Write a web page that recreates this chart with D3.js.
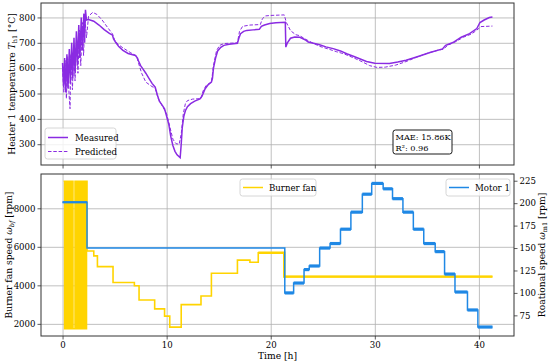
<!DOCTYPE html>
<html>
<head>
<meta charset="utf-8">
<script src="https://cdn.jsdelivr.net/npm/d3@7"></script>
<style>
  body { margin: 0; background: #fff; }
  svg text { font-family: "DejaVu Serif", serif; fill: #000; }
</style>
</head>
<body>
<div id="chart"></div>
<script>
// time ticks and tick labels
var timeTicks = [0, 10, 20, 30, 40];
var tempTicks = [300, 400, 500, 600, 700, 800];
var fanTicks = [2000, 4000, 6000, 8000];
var motorTicks = [75, 100, 125, 150, 175, 200, 225];

// heater 1 temperature [time h, degC]
var measured = [[0,620],[0.1,530],[0.2,640],[0.3,505],[0.42,655],[0.52,520],[0.65,675],[0.75,540],[0.88,700],[0.98,560],
  [1.1,720],[1.2,580],[1.33,745],[1.43,610],[1.56,770],[1.66,640],[1.8,800],[1.9,670],[2.05,815],[2.12,700],[2.2,830],
  [2.3,790],[2.5,792],[3,785],[3.5,770],[4,752],[4.5,737],[4.8,730],[4.9,715],[5.1,702],[5.4,685],[5.8,670],[6.3,658],
  [7,650],[7.2,640],[7.3,628],[7.5,610],[7.7,598],[8,580],[8.3,560],[8.6,540],[8.9,525],[9.1,495],[9.3,470],[9.6,452],
  [9.8,440],[10,410],[10.2,380],[10.4,330],[10.6,295],[10.8,272],[11,258],[11.3,247],[11.4,300],[11.5,365],[11.65,410],
  [11.8,432],[12,448],[12.3,460],[12.7,470],[13.2,479],[13.4,490],[13.7,519],[14,535],[14.3,545],[14.4,560],[14.5,600],
  [14.7,640],[14.9,668],[15.2,682],[15.5,690],[16,694],[16.8,698],[16.95,720],[17.1,736],[17.4,745],[17.7,749],[18.3,751],
  [18.9,753],[19.1,765],[19.4,770],[19.9,776],[20.5,779],[21.4,781],[21.45,683],[21.6,700],[21.9,718],[22.3,723],[22.8,722],
  [23.3,712],[23.6,703],[24,699],[24.7,692],[25.3,684],[26,677],[26.7,668],[27.3,657],[28,646],[28.6,636],[29.2,626],
  [30,619],[31.4,618],[32.2,624],[33,631],[33.7,640],[34.3,648],[35.3,662],[36.5,676],[36.8,690],[37.5,701],[38.3,722],
  [39.1,736],[39.8,756],[40.1,780],[40.5,790],[41,800],[41.3,802]];

var predicted = [[0,600],[0.12,505],[0.25,630],[0.37,480],[0.5,645],[0.62,500],[0.72,440],[0.8,655],[0.95,515],[1.08,690],
  [1.2,550],[1.35,720],[1.48,580],[1.62,750],[1.75,610],[1.9,780],[2.02,650],[2.15,800],[2.3,720],[2.5,805],[2.9,820],
  [3.3,812],[3.8,790],[4.3,762],[4.8,735],[5,712],[5.3,695],[5.8,680],[6.5,662],[7.1,648],[7.3,620],[7.6,580],[8,545],
  [8.5,530],[8.9,520],[9.2,480],[9.6,450],[10,420],[10.3,370],[10.6,320],[10.9,302],[11.2,300],[11.4,340],[11.6,420],
  [11.8,460],[12,472],[12.5,478],[13.3,480],[13.5,510],[13.8,532],[14.3,545],[14.5,610],[14.8,670],[15.1,690],[15.5,697],
  [16.8,700],[17,745],[17.3,765],[18,770],[19,772],[19.2,795],[19.5,806],[20,808],[21.3,810],[21.5,780],[21.9,748],
  [22.4,732],[22.8,728],[23.3,715],[24,700],[24.7,686],[25.5,676],[26.3,665],[27,657],[28,640],[28.8,625],[29.5,610],
  [30.2,603],[31,604],[32,612],[33,626],[34,643],[35,658],[36,670],[36.6,675],[37,690],[37.8,705],[38.5,722],[39.3,735],
  [39.8,750],[40.2,764],[41.3,766]];

// burner fan speed [time h, rpm] (step after)
var burnerFan = [[0.1,9400],[0.2,1750],[0.3,9400],[0.4,1750],[0.5,9400],[0.6,1750],[0.7,9400],[0.8,1750],[0.9,9400],
  [1.0,1750],[1.2,9400],[1.3,1750],[1.4,9400],[1.5,1750],[1.65,9400],[1.75,1750],[1.9,9400],[2.0,1750],[2.1,9400],
  [2.2,1750],[2.3,9400],[2.35,5780],[3.0,5530],[3.35,4970],[4.85,4150],[6.9,3980],[7.35,3240],[8.85,2780],[9.8,2400],
  [10.3,1830],[11.4,3000],[13.3,3450],[14.3,4630],[16.8,5310],[18.0,5200],[18.8,5690],[21.3,4450],[41.3,4450]];

// motor 1 rotational speed [time h, rpm] (step after)
var motor1 = [[0,201],[2.35,150],[21.35,100],[22.2,111],[23.2,126],[23.7,130],[24.7,150],[25.7,155],[26.7,171],
  [27.7,190],[28.8,210],[29.7,222],[30.8,216],[31.7,205],[32.7,190],[33.7,171],[34.7,155],[35.8,146],[36.7,121],
  [37.7,101],[38.9,81],[39.9,62],[41.3,62]];

var purple = "#8a2be2", gold = "#ffd400", blue = "#1f88e5";
var W = 550, H = 364;
var left = 41, right = 514;
var top1 = 3, bot1 = 165, top2 = 174, bot2 = 336;
var tickFont = "8.6px", labelFont = "9.2px";

var svg = d3.select("#chart").append("svg").attr("width", W).attr("height", H);

var x = d3.scaleLinear().domain([-2.07, 43.37]).range([left, right]);
var yT = d3.scaleLinear().domain([218, 857]).range([bot1, top1]);
var yF = d3.scaleLinear().domain([1370, 9780]).range([bot2, top2]);
var yM = d3.scaleLinear().domain([52, 232.5]).range([bot2, top2]);

function grid(g, xTop, xBot, yScale, yTicks) {
    g.append("g").attr("transform", "translate(0," + xBot + ")")
        .call(d3.axisBottom(x).tickValues(timeTicks).tickSize(-(xBot - xTop)).tickFormat(""));
    g.append("g").attr("transform", "translate(" + left + ",0)")
        .call(d3.axisLeft(yScale).tickValues(yTicks).tickSize(-(right - left)).tickFormat(""));
    g.selectAll(".domain").remove();
    g.selectAll("line").attr("stroke", "#b0b0b0").attr("stroke-width", 0.8);
}

function styleAxis(a) {
    a.select(".domain").remove();
    a.selectAll("line").attr("stroke", "#333").attr("stroke-width", 0.8);
    a.selectAll("text").style("font-size", tickFont).style("font-family", "DejaVu Serif");
}

// ---- top panel
grid(svg.append("g"), top1, bot1, yT, tempTicks);

svg.append("clipPath").attr("id", "c1").append("rect")
    .attr("x", left).attr("y", top1).attr("width", right - left).attr("height", bot1 - top1);

var tline = d3.line().x(d => x(d[0])).y(d => yT(d[1]));
var p1 = svg.append("g").attr("clip-path", "url(#c1)");
p1.append("path").datum(predicted).attr("d", tline).attr("fill", "none")
    .attr("stroke", purple).attr("stroke-width", 1).attr("stroke-dasharray", "3.5,1.8");
p1.append("path").datum(measured).attr("d", tline).attr("fill", "none")
    .attr("stroke", purple).attr("stroke-width", 1.5);

var ax1 = svg.append("g").attr("transform", "translate(" + left + ",0)")
    .call(d3.axisLeft(yT).tickValues(tempTicks).tickSize(3.5).tickPadding(2).tickFormat(d3.format("d")));
styleAxis(ax1);
var bx1 = svg.append("g").attr("transform", "translate(0," + bot1 + ")")
    .call(d3.axisBottom(x).tickValues(timeTicks).tickSize(3.5).tickFormat(""));
styleAxis(bx1);

svg.append("rect").attr("x", left).attr("y", top1).attr("width", right - left).attr("height", bot1 - top1)
    .attr("fill", "none").attr("stroke", "#333").attr("stroke-width", 1);

// top legend
var lg1 = svg.append("g");
lg1.append("rect").attr("x", 45).attr("y", 128).attr("width", 71).attr("height", 31).attr("rx", 2.5)
    .attr("fill", "#fff").attr("fill-opacity", 0.8).attr("stroke", "#ccc").attr("stroke-width", 0.8);
lg1.append("line").attr("x1", 48).attr("x2", 68).attr("y1", 137.5).attr("y2", 137.5)
    .attr("stroke", purple).attr("stroke-width", 1.5);
lg1.append("line").attr("x1", 48).attr("x2", 68).attr("y1", 151.5).attr("y2", 151.5)
    .attr("stroke", purple).attr("stroke-width", 1).attr("stroke-dasharray", "3.5,1.8");
lg1.append("text").attr("x", 75).attr("y", 140.5).text("Measured").style("font-size", tickFont);
lg1.append("text").attr("x", 75).attr("y", 154.5).text("Predicted").style("font-size", tickFont);

// MAE box
var mb = svg.append("g");
mb.append("rect").attr("x", 393).attr("y", 130).attr("width", 59).attr("height", 24).attr("rx", 2.5)
    .attr("fill", "#fff").attr("stroke", "#000").attr("stroke-width", 0.9);
mb.append("text").attr("x", 395.5).attr("y", 140).text("MAE: 15.86K").style("font-size", "8.2px");
mb.append("text").attr("x", 395.5).attr("y", 150.5).text("R²: 0.96").style("font-size", "8.2px");

// y label top
var yl1 = svg.append("text").attr("transform", "translate(15," + ((top1 + bot1) / 2) + ") rotate(-90)")
    .attr("text-anchor", "middle").style("font-size", labelFont);
yl1.append("tspan").text("Heater 1 temperature ");
yl1.append("tspan").text("T").style("font-style", "italic");
yl1.append("tspan").text("h1").style("font-size", "6.5px").attr("dy", 1.9);
yl1.append("tspan").text(" [°C]").attr("dy", -1.9);

// ---- bottom panel
grid(svg.append("g"), top2, bot2, yF, fanTicks);

svg.append("clipPath").attr("id", "c2").append("rect")
    .attr("x", left).attr("y", top2).attr("width", right - left).attr("height", bot2 - top2);
var p2 = svg.append("g").attr("clip-path", "url(#c2)");

var fline = d3.line().curve(d3.curveStepAfter).x(d => x(d[0])).y(d => yF(d[1]));
var mline = d3.line().curve(d3.curveStepAfter).x(d => x(d[0])).y(d => yM(d[1]));

p2.append("path").datum(burnerFan).attr("d", fline).attr("fill", "none")
    .attr("stroke", gold).attr("stroke-width", 1.6);
// steady part after 19 h is noisier / thicker
p2.append("path").datum(burnerFan.filter(d => d[0] >= 18.8)).attr("d", fline).attr("fill", "none")
    .attr("stroke", gold).attr("stroke-width", 2.4);

p2.append("path").datum(motor1).attr("d", mline).attr("fill", "none")
    .attr("stroke", blue).attr("stroke-width", 1.5);
// plateau noise band
p2.selectAll("line.band").data(motor1.slice(2, motor1.length - 1)).enter().append("line")
    .attr("class", "band")
    .attr("x1", d => x(d[0]))
    .attr("x2", (d, i) => x(motor1[i + 3][0]))
    .attr("y1", d => yM(d[1])).attr("y2", d => yM(d[1]))
    .attr("stroke", blue).attr("stroke-width", 3.2);
p2.append("line").attr("x1", x(motor1[0][0])).attr("x2", x(motor1[1][0]))
    .attr("y1", yM(motor1[0][1])).attr("y2", yM(motor1[0][1]))
    .attr("stroke", blue).attr("stroke-width", 2.2);

var ax2 = svg.append("g").attr("transform", "translate(" + left + ",0)")
    .call(d3.axisLeft(yF).tickValues(fanTicks).tickSize(3.5).tickPadding(2).tickFormat(d3.format("d")));
styleAxis(ax2);
var ax3 = svg.append("g").attr("transform", "translate(" + right + ",0)")
    .call(d3.axisRight(yM).tickValues(motorTicks).tickSize(3.5).tickPadding(2).tickFormat(d3.format("d")));
styleAxis(ax3);
var bx2 = svg.append("g").attr("transform", "translate(0," + bot2 + ")")
    .call(d3.axisBottom(x).tickValues(timeTicks).tickSize(3.5).tickPadding(2).tickFormat(d3.format("d")));
styleAxis(bx2);

svg.append("rect").attr("x", left).attr("y", top2).attr("width", right - left).attr("height", bot2 - top2)
    .attr("fill", "none").attr("stroke", "#333").attr("stroke-width", 1);

// bottom legends
function legendBox(bx, w, color, label) {
    var g = svg.append("g");
    g.append("rect").attr("x", bx).attr("y", 179).attr("width", w).attr("height", 17).attr("rx", 2.5)
        .attr("fill", "#fff").attr("fill-opacity", 0.8).attr("stroke", "#ccc").attr("stroke-width", 0.8);
    g.append("line").attr("x1", bx + 3).attr("x2", bx + 23).attr("y1", 187.5).attr("y2", 187.5)
        .attr("stroke", color).attr("stroke-width", 1.5);
    g.append("text").attr("x", bx + 29).attr("y", 190.5).text(label).style("font-size", tickFont);
}
legendBox(240, 76, gold, "Burner fan");
legendBox(446, 64, blue, "Motor 1");

// y labels bottom
var yl2 = svg.append("text").attr("transform", "translate(12," + ((top2 + bot2) / 2) + ") rotate(-90)")
    .attr("text-anchor", "middle").style("font-size", labelFont);
yl2.append("tspan").text("Burner fan speed ");
yl2.append("tspan").text("ω").style("font-style", "italic");
yl2.append("tspan").text("bf").style("font-size", "6.5px").style("font-style", "italic").attr("dy", 1.9);
yl2.append("tspan").text(" [rpm]").attr("dy", -1.9);

var yl3 = svg.append("text").attr("transform", "translate(545," + ((top2 + bot2) / 2) + ") rotate(-90)")
    .attr("text-anchor", "middle").style("font-size", labelFont);
yl3.append("tspan").text("Roational speed ");
yl3.append("tspan").text("ω").style("font-style", "italic");
yl3.append("tspan").text("m1").style("font-size", "6.5px").attr("dy", 1.9);
yl3.append("tspan").text(" [rpm]").attr("dy", -1.9);

svg.append("text").attr("x", (left + right) / 2).attr("y", 359).attr("text-anchor", "middle")
    .style("font-size", labelFont).text("Time [h]");
</script>
</body>
</html>
